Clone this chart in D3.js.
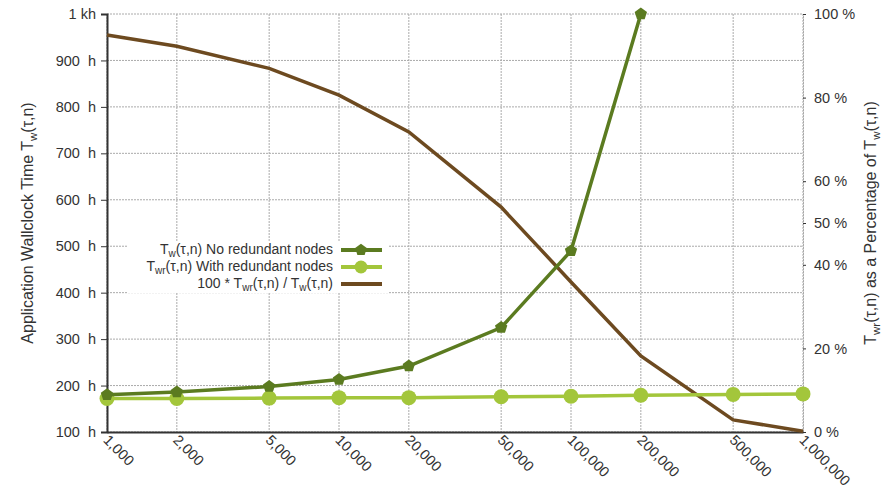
<!DOCTYPE html>
<html>
<head>
<meta charset="utf-8">
<script src="https://cdn.jsdelivr.net/npm/d3@7/dist/d3.min.js"></script>
<style>
  html, body { margin: 0; padding: 0; background: #fff; }
  svg { display: block; font-family: "Liberation Sans", Arial, Helvetica, sans-serif; }
</style>
</head>
<body>
<svg id="chart" width="893" height="494"></svg>
<script>
// Problem sizes (number of nodes) on the log x axis
const nodes = [1000, 2000, 5000, 10000, 20000, 50000, 100000, 200000, 500000, 1000000];
// Wallclock time without redundant nodes (hours); shown up to 1 kh
const twNoRedundant = [180, 186, 198, 213, 242, 325, 490, 1000, null, null];
// Wallclock time with redundant nodes (hours)
const twWithRedundant = [172, 172, 173, 174, 174, 176, 177, 179, 181, 182];
// 100 * Twr / Tw (percent)
const ratioPercent = [95, 92.3, 87, 80.6, 71.8, 53.8, 35.9, 18.2, 2.9, 0.2];

const leftTicks = [100, 200, 300, 400, 500, 600, 700, 800, 900, 1000];
const leftTickLabels = ["100  h", "200  h", "300  h", "400  h", "500  h", "600  h", "700  h", "800  h", "900  h", "1 kh"];
const rightTicks = [0, 20, 40, 50, 60, 80, 100];
const xTickLabels = ["1,000", "2,000", "5,000", "10,000", "20,000", "50,000", "100,000", "200,000", "500,000", "1,000,000"];

const colNo = "#5b7b20";
const colWith = "#a3c63b";
const colRatio = "#6d4a20";
const textCol = "#333";

const svg = d3.select("#chart");
const W = 893, H = 494;
const m = { top: 14, right: 90, bottom: 62, left: 107 };
const pw = W - m.left - m.right, ph = H - m.top - m.bottom;

const x = d3.scaleLog().domain([1000, 1000000]).range([m.left, m.left + pw]);
const yL = d3.scaleLinear().domain([100, 1000]).range([m.top + ph, m.top]);
const yR = d3.scaleLinear().domain([0, 100]).range([m.top + ph, m.top]);

// grid
const grid = svg.append("g").attr("stroke", "#aaa").attr("stroke-width", 1).attr("stroke-dasharray", "2,1").attr("fill", "none");
nodes.forEach(v => {
  grid.append("line").attr("x1", x(v)).attr("x2", x(v)).attr("y1", m.top).attr("y2", m.top + ph);
});
leftTicks.forEach(v => {
  grid.append("line").attr("x1", m.left).attr("x2", m.left + pw).attr("y1", yL(v)).attr("y2", yL(v));
});

// left axis
const gL = svg.append("g").attr("transform", `translate(${m.left},0)`)
  .call(d3.axisLeft(yL).tickValues(leftTicks).tickFormat((d, i) => leftTickLabels[i]).tickSize(6).tickPadding(5));
gL.select(".domain").attr("stroke", textCol).attr("stroke-width", 2);
gL.selectAll(".tick line").attr("stroke", textCol);
gL.selectAll(".tick text").attr("fill", textCol).attr("font-size", 14.5).style("white-space", "pre");

// right axis
const gR = svg.append("g").attr("transform", `translate(${m.left + pw},0)`)
  .call(d3.axisRight(yR).tickValues(rightTicks).tickFormat(d => d + " %").tickSize(3).tickPadding(8));
gR.select(".domain").attr("stroke", "#aaa").attr("stroke-dasharray", "2,1");
gR.selectAll(".tick line").attr("stroke", textCol);
gR.selectAll(".tick text").attr("fill", textCol).attr("font-size", 14.5);

// bottom axis
const gB = svg.append("g").attr("transform", `translate(0,${m.top + ph})`)
  .call(d3.axisBottom(x).tickValues(nodes).tickFormat((d, i) => xTickLabels[i]).tickSize(0));
gB.select(".domain").attr("stroke", textCol).attr("stroke-width", 2);
gB.selectAll(".tick text")
  .attr("fill", textCol).attr("font-size", 14.5)
  .attr("text-anchor", "start")
  .attr("dy", null).attr("y", 0)
  .attr("transform", "translate(-5,9) rotate(45)");

// axis titles
function subTitle(g, parts) {
  const t = g.append("text").attr("fill", textCol).attr("font-size", 16).attr("text-anchor", "middle");
  parts.forEach(p => {
    if (p.sub) {
      t.append("tspan").attr("font-size", 11.5).attr("dy", 4).text(p.sub);
    } else {
      t.append("tspan").attr("dy", p.after ? -4 : 0).text(p.t);
    }
  });
  return t;
}
const lt = svg.append("g").attr("transform", `translate(33,${m.top + ph / 2}) rotate(-90)`);
subTitle(lt, [{ t: "Application Wallclock Time T" }, { sub: "w" }, { t: "(τ,n)", after: true }]);
const rt = svg.append("g").attr("transform", `translate(876,${m.top + ph / 2}) rotate(-90)`);
subTitle(rt, [{ t: "T" }, { sub: "wr" }, { t: "(τ,n) as a Percentage of T", after: true }, { sub: "w" }, { t: "(τ,n)", after: true }]);

// pentagon marker
const pentagon = {
  draw(ctx, size) {
    const r = Math.sqrt(size / 2.378);
    for (let i = 0; i < 5; i++) {
      const a = -Math.PI / 2 + i * 2 * Math.PI / 5;
      const px = r * Math.cos(a), py = r * Math.sin(a);
      if (i === 0) ctx.moveTo(px, py); else ctx.lineTo(px, py);
    }
    ctx.closePath();
  }
};

const plot = svg.append("g");
const lineL = d3.line().defined(d => d[1] != null).x(d => x(d[0])).y(d => yL(d[1]));
const lineR = d3.line().x(d => x(d[0])).y(d => yR(d[1]));

const dWith = nodes.map((n, i) => [n, twWithRedundant[i]]);
const dNo = nodes.map((n, i) => [n, twNoRedundant[i]]).filter(d => d[1] != null);
const dRatio = nodes.map((n, i) => [n, ratioPercent[i]]);

plot.append("path").datum(dRatio).attr("d", lineR).attr("fill", "none").attr("stroke", colRatio).attr("stroke-width", 3.5);
plot.append("path").datum(dWith).attr("d", lineL).attr("fill", "none").attr("stroke", colWith).attr("stroke-width", 3.5);
plot.selectAll(".mw").data(dWith).join("circle").attr("cx", d => x(d[0])).attr("cy", d => yL(d[1])).attr("r", 7.5).attr("fill", colWith);
plot.append("path").datum(dNo).attr("d", lineL).attr("fill", "none").attr("stroke", colNo).attr("stroke-width", 3.5);
plot.selectAll(".mn").data(dNo).join("path")
  .attr("transform", d => `translate(${x(d[0])},${yL(d[1])})`)
  .attr("d", d3.symbol().type(pentagon).size(100)).attr("fill", colNo);

// legend
const lg = svg.append("g");
lg.append("rect").attr("x", 128).attr("y", 241).attr("width", 260).attr("height", 52).attr("fill", "#fff");
const legendRows = [
  { parts: [{ t: "T" }, { sub: "w" }, { t: "(τ,n) No redundant nodes", after: true }], color: colNo, marker: "pent" },
  { parts: [{ t: "T" }, { sub: "wr" }, { t: "(τ,n) With redundant nodes", after: true }], color: colWith, marker: "circle" },
  { parts: [{ t: "100 * T" }, { sub: "wr" }, { t: "(τ,n) / T", after: true }, { sub: "w" }, { t: "(τ,n)", after: true }], color: colRatio, marker: null }
];
legendRows.forEach((r, i) => {
  const cy = 250 + i * 17;
  const t = lg.append("text").attr("x", 333).attr("y", cy + 4).attr("fill", textCol).attr("font-size", 14).attr("text-anchor", "end");
  r.parts.forEach(p => {
    if (p.sub) t.append("tspan").attr("font-size", 10).attr("dy", 2.5).text(p.sub);
    else t.append("tspan").attr("dy", p.after ? -2.5 : 0).text(p.t);
  });
  lg.append("line").attr("x1", 341).attr("x2", 382).attr("y1", cy).attr("y2", cy).attr("stroke", r.color).attr("stroke-width", 4);
  if (r.marker === "circle") lg.append("circle").attr("cx", 361).attr("cy", cy).attr("r", 6.5).attr("fill", r.color);
  if (r.marker === "pent") lg.append("path").attr("transform", `translate(361,${cy})`).attr("d", d3.symbol().type(pentagon).size(90)).attr("fill", r.color);
});
</script>
</body>
</html>
